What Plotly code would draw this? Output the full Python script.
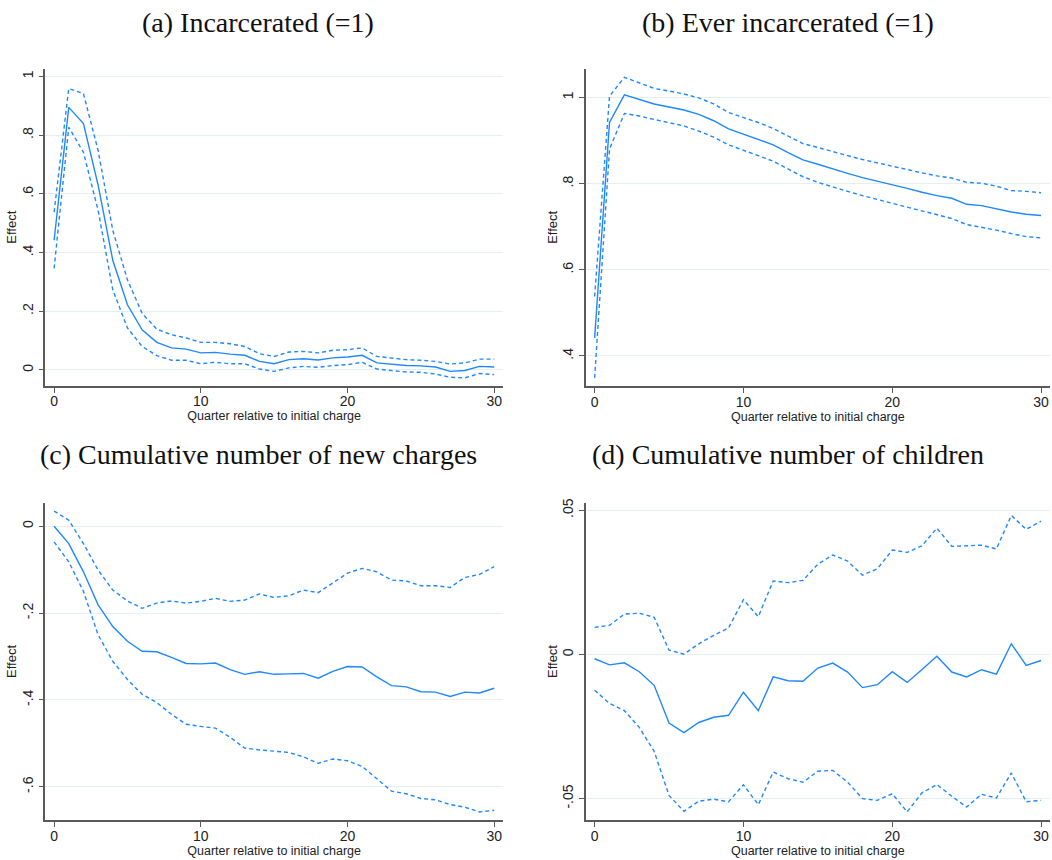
import plotly.graph_objects as go

quarters = list(range(31))

# (a) Incarcerated (=1)
a_est = [0.442, 0.895, 0.840, 0.630, 0.374, 0.222, 0.137, 0.094, 0.075, 0.071, 0.058,
         0.060, 0.054, 0.050, 0.029, 0.021, 0.035, 0.038, 0.034, 0.041, 0.044,
         0.050, 0.024, 0.019, 0.015, 0.014, 0.010, -0.005, -0.002, 0.012, 0.010]
a_hi = [0.538, 0.959, 0.942, 0.748, 0.476, 0.307, 0.193, 0.139, 0.120, 0.109, 0.094,
        0.094, 0.089, 0.080, 0.055, 0.046, 0.061, 0.063, 0.058, 0.067, 0.069,
        0.075, 0.046, 0.041, 0.035, 0.033, 0.029, 0.020, 0.024, 0.037, 0.037]
a_lo = [0.346, 0.827, 0.742, 0.544, 0.273, 0.143, 0.080, 0.049, 0.033, 0.033, 0.021,
        0.026, 0.021, 0.021, 0.003, -0.005, 0.007, 0.012, 0.009, 0.015, 0.018,
        0.026, 0.003, -0.002, -0.007, -0.008, -0.014, -0.025, -0.027, -0.012, -0.016]

# (b) Ever incarcerated (=1)
b_est = [0.442, 0.942, 1.006, 0.995, 0.985, 0.978, 0.971, 0.961, 0.946, 0.927, 0.915,
         0.902, 0.890, 0.872, 0.855, 0.845, 0.834, 0.824, 0.814, 0.806, 0.798,
         0.789, 0.780, 0.772, 0.766, 0.752, 0.749, 0.741, 0.734, 0.729, 0.726]
b_hi = [0.538, 1.003, 1.047, 1.034, 1.021, 1.015, 1.008, 0.999, 0.985, 0.965, 0.953,
        0.942, 0.928, 0.911, 0.893, 0.884, 0.874, 0.865, 0.856, 0.848, 0.841,
        0.833, 0.825, 0.818, 0.813, 0.803, 0.801, 0.794, 0.784, 0.782, 0.779]
b_lo = [0.349, 0.880, 0.963, 0.957, 0.949, 0.942, 0.934, 0.922, 0.908, 0.890, 0.878,
        0.865, 0.852, 0.834, 0.816, 0.803, 0.792, 0.782, 0.772, 0.763, 0.755,
        0.745, 0.736, 0.728, 0.719, 0.705, 0.699, 0.692, 0.684, 0.677, 0.674]

# (c) Cumulative number of new charges
c_est = [0.000, -0.040, -0.105, -0.181, -0.231, -0.265, -0.288, -0.289, -0.302, -0.316, -0.317,
         -0.315, -0.330, -0.341, -0.335, -0.341, -0.340, -0.339, -0.350, -0.334, -0.323,
         -0.324, -0.347, -0.367, -0.370, -0.381, -0.382, -0.392, -0.382, -0.384, -0.373]
c_hi = [0.035, 0.014, -0.040, -0.101, -0.147, -0.172, -0.189, -0.177, -0.172, -0.177, -0.173,
        -0.166, -0.173, -0.170, -0.156, -0.164, -0.160, -0.147, -0.153, -0.131, -0.108,
        -0.097, -0.105, -0.124, -0.126, -0.137, -0.137, -0.141, -0.118, -0.111, -0.093]
c_lo = [-0.036, -0.082, -0.150, -0.250, -0.311, -0.353, -0.387, -0.406, -0.433, -0.456, -0.461,
        -0.465, -0.486, -0.511, -0.515, -0.518, -0.521, -0.531, -0.546, -0.536, -0.540,
        -0.553, -0.582, -0.610, -0.616, -0.627, -0.630, -0.641, -0.647, -0.658, -0.654]

# (d) Cumulative number of children
d_est = [-0.0015, -0.0036, -0.0029, -0.0060, -0.0107, -0.0238, -0.0271, -0.0236, -0.0218, -0.0211, -0.0131,
         -0.0195, -0.0078, -0.0091, -0.0093, -0.0047, -0.0030, -0.0061, -0.0115, -0.0105, -0.0060,
         -0.0097, -0.0052, -0.0006, -0.0061, -0.0078, -0.0053, -0.0068, 0.0037, -0.0038, -0.0021]
d_hi = [0.0094, 0.0101, 0.0140, 0.0143, 0.0129, 0.0015, 0.0001, 0.0037, 0.0066, 0.0092, 0.0190,
        0.0131, 0.0255, 0.0249, 0.0257, 0.0313, 0.0345, 0.0324, 0.0275, 0.0297, 0.0362,
        0.0354, 0.0377, 0.0438, 0.0375, 0.0377, 0.0379, 0.0366, 0.0482, 0.0434, 0.0462]
d_lo = [-0.0124, -0.0170, -0.0195, -0.0253, -0.0336, -0.0489, -0.0544, -0.0509, -0.0502, -0.0511, -0.0452,
        -0.0521, -0.0408, -0.0431, -0.0443, -0.0405, -0.0402, -0.0443, -0.0500, -0.0506, -0.0483,
        -0.0546, -0.0480, -0.0451, -0.0492, -0.0529, -0.0485, -0.0498, -0.0411, -0.0511, -0.0506]

titles = ["(a) Incarcerated (=1)", "(b) Ever incarcerated (=1)",
          "(c) Cumulative number of new charges", "(d) Cumulative number of children"]
x_ticks = [0, 10, 20, 30]
a_yticks = [0, 0.2, 0.4, 0.6, 0.8, 1]
a_ylabels = ["0", ".2", ".4", ".6", ".8", "1"]
b_yticks = [0.4, 0.6, 0.8, 1]
b_ylabels = [".4", ".6", ".8", "1"]
c_yticks = [-0.6, -0.4, -0.2, 0]
c_ylabels = ["-.6", "-.4", "-.2", "0"]
d_yticks = [-0.05, 0, 0.05]
d_ylabels = ["-.05", "0", ".05"]

W, H = 1052, 860
BLUE = "#1f88ff"
AXC = "#5a5a5a"
GRID = "#e6eff0"

panels = [
    dict(est=a_est, hi=a_hi, lo=a_lo, yt=a_yticks, yl=a_ylabels, yr=[-0.054, 1.027],
         box=(45.3, 503, 64, 383)),
    dict(est=b_est, hi=b_hi, lo=b_lo, yt=b_yticks, yl=b_ylabels, yr=[0.330, 1.067],
         box=(585.7, 1050, 64, 383.3)),
    dict(est=c_est, hi=c_hi, lo=c_lo, yt=c_yticks, yl=c_ylabels, yr=[-0.677, 0.054],
         box=(45.3, 503, 500.7, 820)),
    dict(est=d_est, hi=d_hi, lo=d_lo, yt=d_yticks, yl=d_ylabels, yr=[-0.0575, 0.0526],
         box=(585.7, 1050, 500.7, 820)),
]

fig = go.Figure()
layout = dict(
    width=W, height=H, margin=dict(l=0, r=0, t=0, b=0),
    paper_bgcolor="white", plot_bgcolor="white", showlegend=False,
    font=dict(family="Liberation Sans, Arial, sans-serif", color="#222"),
)
annotations = []
title_centers = [(258, 18), (788, 18), (258, 452), (788, 452)]

for i, p in enumerate(panels):
    n = i + 1
    xa = "x" if n == 1 else f"x{n}"
    ya = "y" if n == 1 else f"y{n}"
    l, r, t, b = p["box"]
    for series, dash in ((p["hi"], "4px,3px"), (p["lo"], "4px,3px"), (p["est"], "solid")):
        fig.add_trace(go.Scatter(x=quarters, y=series, mode="lines", xaxis=xa, yaxis=ya,
                                 line=dict(color=BLUE, width=1.4, dash=dash),
                                 hoverinfo="skip"))
    xkey = "xaxis" if n == 1 else f"xaxis{n}"
    ykey = "yaxis" if n == 1 else f"yaxis{n}"
    layout[xkey] = dict(
        domain=[l / W, r / W], anchor=ya, range=[-0.6, 30.6],
        tickvals=x_ticks, ticktext=[str(v) for v in x_ticks],
        ticks="outside", ticklen=5, tickcolor=AXC, tickwidth=1,
        showline=True, linecolor=AXC, linewidth=1.5, showgrid=False, zeroline=False,
        tickfont=dict(size=14, color="#222"), ticklabelstandoff=-3,
        title=dict(text="Quarter relative to initial charge", font=dict(size=12.5, color="#222"),
                   standoff=0),
    )
    layout[ykey] = dict(
        domain=[1 - b / H, 1 - t / H], anchor=xa, range=p["yr"],
        tickvals=p["yt"], ticktext=p["yl"], tickangle=-90,
        ticks="outside", ticklen=5, tickcolor=AXC, tickwidth=1,
        showline=True, linecolor=AXC, linewidth=1.5,
        showgrid=True, gridcolor=GRID, gridwidth=1, zeroline=False,
        tickfont=dict(size=14, color="#222"),
        title=dict(text="Effect", font=dict(size=13, color="#222"), standoff=0),
    )
    cx, cy = title_centers[i]
    annotations.append(dict(text=titles[i], x=cx / W, y=1 - cy / H, xref="paper", yref="paper",
                            showarrow=False, xanchor="center", yanchor="middle",
                            font=dict(family="Liberation Serif, Times New Roman, serif",
                                      size=28, color="#111")))

layout["annotations"] = annotations
fig.update_layout(**layout)
fig.write_html("out.html")
